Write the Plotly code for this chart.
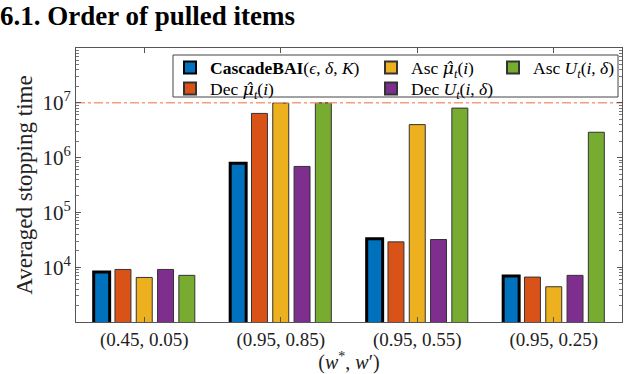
import plotly.graph_objects as go

categories = ["(0.45, 0.05)", "(0.95, 0.85)", "(0.95, 0.55)", "(0.95, 0.25)"]
cascade = [8.2e3, 7.9e5, 3.3e4, 6.9e3]
dec_mu = [9.1e3, 6.4e6, 2.9e4, 6.6e3]
asc_mu = [6.5e3, 9.9e6, 4.0e6, 4.4e3]
dec_u = [9.1e3, 6.9e5, 3.2e4, 7.1e3]
asc_u = [7.1e3, 1.0e7, 8.0e6, 2.9e6]
threshold = 1e7

MUHAT = '<span style="font-family:DejaVu Serif;font-style:italic">μ̂</span>'
series = [
    ("<b>CascadeBAI</b>(<i>ϵ</i>, <i>δ</i>, <i>K</i>)", cascade, "#0072BD", "legend"),
    ("Dec " + MUHAT + "<sub><i>t</i></sub>(<i>i</i>)", dec_mu, "#D95319", "legend2"),
    ("Asc " + MUHAT + "<sub><i>t</i></sub>(<i>i</i>)", asc_mu, "#EDB120", "legend3"),
    ("Dec <i>U</i><sub><i>t</i></sub>(<i>i</i>, <i>δ</i>)", dec_u, "#7E2F8E", "legend4"),
    ("Asc <i>U</i><sub><i>t</i></sub>(<i>i</i>, <i>δ</i>)", asc_u, "#77AC30", "legend5"),
]

xpos = list(range(1, len(categories) + 1))
serif = "Liberation Serif"

fig = go.Figure()
for i, (name, vals, col, leg) in enumerate(series):
    fig.add_trace(go.Bar(
        x=xpos, y=vals, name=name, legend=leg,
        marker=dict(color=col,
                    line=dict(color="#000000" if i == 0 else "#333333",
                              width=3 if i == 0 else 1)),
    ))

xr = [0.5, len(categories) + 0.5]
fig.add_trace(go.Scatter(
    x=xr, y=[threshold, threshold], mode="lines", showlegend=False,
    line=dict(color="#F2A07E", width=1.5, dash="dashdot"), hoverinfo="skip",
))


def px_x(p):
    return (p - 76) / 546


def px_y(p):
    return 1 - (p - 48) / 274


def leg(xp, yp):
    return dict(
        x=px_x(xp), y=px_y(yp), xanchor="left", yanchor="middle",
        font=dict(family=serif, size=17.5, color="#000"),
        bgcolor="rgba(0,0,0,0)", borderwidth=0, orientation="v",
        itemsizing="constant",
    )


fig.update_layout(
    width=626, height=374,
    margin=dict(l=76, r=4, t=48, b=52),
    paper_bgcolor="white", plot_bgcolor="white",
    barmode="group", bargap=0.22, bargroupgap=0.25,
    title=dict(text="<b>6.1. Order of pulled items</b>", x=0, xref="container",
               xanchor="left", y=0.984, yref="container", yanchor="top",
               font=dict(family=serif, size=27, color="#000")),
    legend=leg(170, 67.5),
    legend2=leg(170, 88.5),
    legend3=leg(371, 67.5),
    legend4=leg(371, 88.5),
    legend5=leg(493, 67.5),
    xaxis=dict(
        range=xr, tickvals=xpos, ticktext=categories,
        ticks="inside", ticklen=5, tickcolor="#555", mirror="ticks",
        showline=True, linecolor="#555", linewidth=1, showgrid=False,
        zeroline=False, ticklabelstandoff=0,
        tickfont=dict(family=serif, size=19, color="#222"),
        title=dict(text="(<i>w</i><sup>*</sup>, <i>w</i>′)", standoff=2,
                   font=dict(family=serif, size=20, color="#222")),
    ),
    yaxis=dict(
        type="log", range=[3, 8],
        tickvals=[1e4, 1e5, 1e6, 1e7],
        ticktext=["10<sup>4</sup>", "10<sup>5</sup>", "10<sup>6</sup>", "10<sup>7</sup>"],
        ticks="inside", ticklen=5, tickcolor="#555", mirror="allticks",
        showline=True, linecolor="#555", linewidth=1, showgrid=False,
        zeroline=False,
        minor=dict(ticks="inside", ticklen=3, tickcolor="#777", showgrid=False, dtick="D1"),
        tickfont=dict(family=serif, size=21, color="#222"),
        title=dict(text="Averaged stopping time", standoff=3,
                   font=dict(family=serif, size=23, color="#222")),
    ),
    shapes=[dict(type="rect", xref="paper", yref="paper",
                 x0=px_x(173), x1=px_x(618),
                 y0=px_y(97), y1=px_y(55),
                 line=dict(color="#444", width=1), fillcolor="white",
                 layer="below")],
)

fig.write_html("out.html", config={"displayModeBar": False},
               post_script="document.body.style.margin='0';")
